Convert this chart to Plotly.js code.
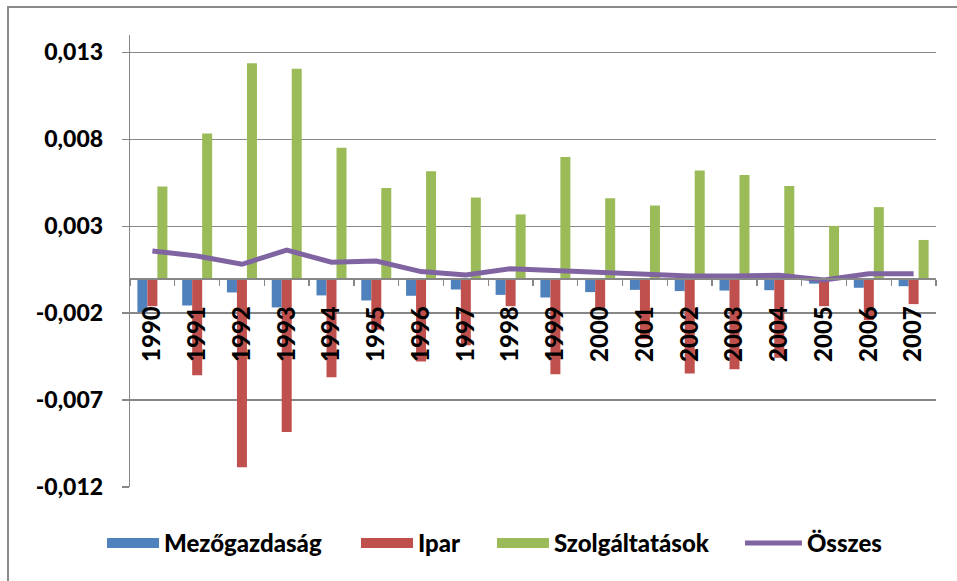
<!DOCTYPE html>
<html>
<head>
<meta charset="utf-8">
<script src="https://cdn.plot.ly/plotly-3.0.1.min.js"></script>
<style>
  html, body { margin: 0; padding: 0; background: #fff; }
  #wrap { position: relative; width: 957px; height: 581px; overflow: hidden; }
  #chart { position: absolute; left: 0; top: 0; width: 957px; height: 581px; }
  #frame { position: absolute; left: 7px; top: 6px; width: 960px; height: 600px;
           border-left: 2px solid #8a8a8a; border-top: 2px solid #8a8a8a; pointer-events: none; }
</style>
</head>
<body>
<div id="wrap"><div id="chart"></div><div id="frame"></div></div>
<script>
// ---- data ----
const years = ['1990','1991','1992','1993','1994','1995','1996','1997','1998','1999',
               '2000','2001','2002','2003','2004','2005','2006','2007'];
const mezogazdasag = [-0.00194,-0.00156,-0.00081,-0.00167,-0.00098,-0.00127,-0.00100,-0.00064,-0.00095,
                      -0.00110,-0.00079,-0.00066,-0.00073,-0.00070,-0.00068,-0.00030,-0.00054,-0.00045];
const ipar = [-0.0016,-0.00557,-0.01087,-0.00883,-0.00568,-0.00295,-0.00478,-0.00385,-0.0016,
              -0.00551,-0.0017,-0.0035,-0.00547,-0.00522,-0.00457,-0.0016,-0.0024,-0.00148];
const szolgaltatasok = [0.00528,0.00833,0.01238,0.01206,0.00751,0.00520,0.00616,0.00465,0.00368,
                        0.00698,0.00461,0.00419,0.00620,0.00595,0.00532,0.00302,0.00410,0.00221];
const osszes = [0.00158,0.00129,0.00081,0.00163,0.00093,0.00100,0.00039,0.00020,0.00056,
                0.00045,0.00033,0.00018,0.00013,0.00013,0.00018,-0.00009,0.00027,0.00027];
const seriesNames = ['Mezőgazdaság','Ipar','Szolgáltatások','Összes'];
const yTickVals = [-0.012,-0.007,-0.002,0.003,0.008,0.013];
const yTickText = ['-0,012','-0,007','-0,002','0,003','0,008','0,013'];

// ---- styles ----
const colors = ['#4F81BD','#C0504D','#9BBB59','#8064A2'];
const gridCol = '#878787';
const FONT = 'Lato, "Open Sans", sans-serif';
const fBold = {family: FONT, size: 24, color: '#000', weight: 900};
const fBoldY = {family: FONT, size: 23, color: '#000', weight: 900};
const yMin = -0.012, yMax = 0.014;
const zeroFrac = (0 - yMin) / (yMax - yMin);
const legendKeys = ['legend', 'legend2', 'legend3', 'legend4'];
const legendX = [-0.0347, 0.2804, 0.4491, 0.7568];

const barVals = [mezogazdasag, ipar, szolgaltatasok];
const traces = [];
// legend entries (drawn on the overlay axis that carries the category labels)
barVals.forEach((v, i) => {
  traces.push({
    type: 'scatter', mode: 'lines', name: seriesNames[i], legend: legendKeys[i],
    x: years, y: years.map(() => null), xaxis: 'x2', yaxis: 'y2',
    line: {color: colors[i], width: 15}, hoverinfo: 'skip', showlegend: true
  });
});
barVals.forEach((v, i) => {
  traces.push({
    type: 'bar', name: seriesNames[i], x: years, y: v,
    marker: {color: colors[i]}, showlegend: false
  });
});
traces.push({
  type: 'scatter', mode: 'lines', name: seriesNames[3], x: years, y: osszes,
  legend: legendKeys[3], line: {color: colors[3], width: 5}
});

const layout = {
  width: 957, height: 581,
  margin: {l: 130, r: 21, t: 35, b: 94},
  paper_bgcolor: 'rgba(0,0,0,0)', plot_bgcolor: 'rgba(0,0,0,0)',
  font: fBold,
  barmode: 'group', bargap: 0.33, bargroupgap: 0,
  showlegend: true,
  xaxis: {type: 'category', range: [-0.5, years.length - 0.5], showgrid: false,
          showticklabels: false, ticks: '', showline: false, zeroline: false, fixedrange: true},
  yaxis: {range: [yMin, yMax], tickmode: 'array', tickvals: yTickVals, ticktext: yTickText,
          showgrid: true, gridcolor: gridCol, gridwidth: 1.3, zeroline: false,
          showline: true, linecolor: gridCol, linewidth: 1.3,
          ticks: 'outside', ticklen: 7, tickcolor: gridCol, tickwidth: 1.3,
          ticklabelstandoff: 14, tickfont: fBoldY},
  xaxis2: {type: 'category', anchor: 'y2', domain: [0, 1], range: [-0.5, years.length - 0.5],
           categoryorder: 'array', categoryarray: years,
           showgrid: false, zeroline: false, showline: true, linecolor: gridCol, linewidth: 1.3,
           ticks: 'outside', tickson: 'boundaries', ticklen: 6, tickcolor: gridCol, tickwidth: 1.3,
           tickangle: -90, ticklabelstandoff: 17, tickfont: fBold},
  yaxis2: {anchor: 'x2', domain: [zeroFrac, 1], range: [0, 1], showgrid: false, zeroline: false,
           showline: false, showticklabels: false, ticks: ''}
};
legendKeys.forEach((k, i) => {
  layout[k] = {orientation: 'h', x: legendX[i], xanchor: 'left', y: -0.125, yanchor: 'middle',
               font: fBold, itemwidth: i === 3 ? 57 : 52, bgcolor: 'rgba(0,0,0,0)'};
});

Plotly.newPlot('chart', traces, layout, {displayModeBar: false, staticPlot: true});
</script>
</body>
</html>
